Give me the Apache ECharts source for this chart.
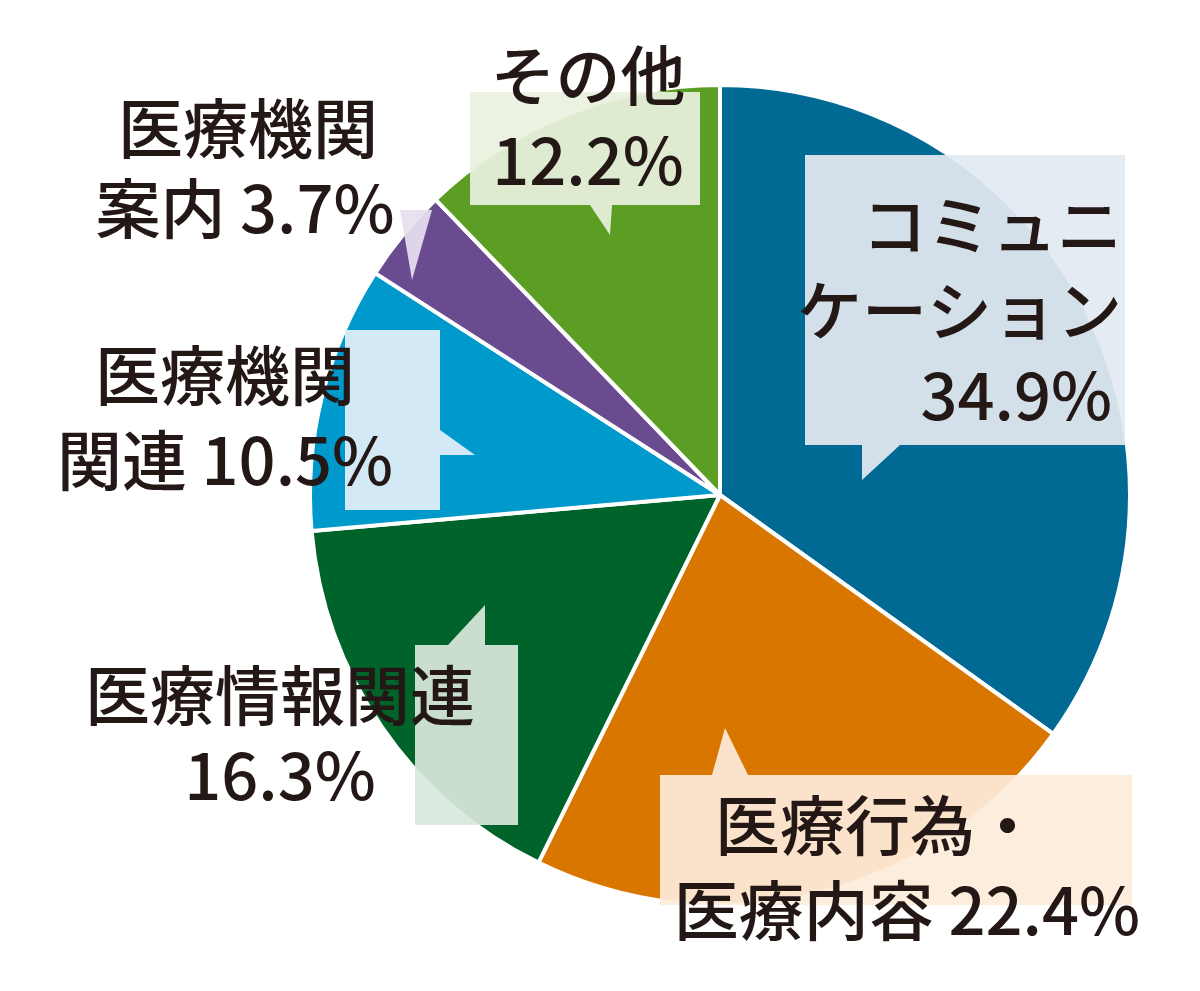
<!DOCTYPE html>
<html><head><meta charset="utf-8">
<script src="https://cdn.jsdelivr.net/npm/echarts@6/dist/echarts.min.js"></script>
<style>html,body{margin:0;background:#fff}#c{width:1200px;height:991px}</style>
</head><body><div id="c"></div>
<script>
const categories=['コミュニケーション','医療行為・医療内容','医療情報関連','医療機関関連','医療機関案内','その他'];
const values=[34.9,22.4,16.3,10.5,3.7,12.2];
const colors=['#006994','#d97600','#00632a','#0099cc','#6b4b8f','#5c9e24'];
const chart=echarts.init(document.getElementById('c'));
const F='"Noto Sans CJK JP","Noto Sans",sans-serif';
const pct=i=>values[i].toFixed(1)+'%';
function box(pts,fill){return {type:'polygon',z:100,shape:{points:pts},style:{fill:fill,opacity:0.93}};}
function txt(x,y,t,align){return {type:'text',z:101,x:x,y:y,style:{text:t,font:'500 65px '+F,fill:'#231815',align:align,verticalAlign:'middle'}};}
chart.setOption({
 animation:false,
 series:[{type:'pie',center:[720,495],radius:[0,410],startAngle:90,clockwise:true,
  label:{show:false},labelLine:{show:false},
  itemStyle:{borderColor:'#fff',borderWidth:4},
  data:categories.map((n,i)=>({name:n,value:values[i],itemStyle:{color:colors[i]}}))}],
 graphic:[
  box([[805,155],[1125,155],[1125,445],[900,445],[862,480],[862,445],[805,445]],'#e3e9f1'),
  box([[660,775],[712,775],[725,728],[748,775],[1132,775],[1132,905],[660,905]],'#fcecd9'),
  box([[415,645],[448,645],[485,605],[485,645],[518,645],[518,825],[415,825]],'#d8e7dc'),
  box([[345,330],[440,330],[440,430],[475,455],[440,455],[440,510],[345,510]],'#e3f0f9'),
  box([[400,210],[432,210],[412,280]],'#e6e0ef'),
  box([[470,92],[700,92],[700,205],[612,205],[610,235],[590,205],[470,205]],'#e9f1df'),
  txt(1122,225,'コミュニ','right'),
  txt(1122,310,'ケーション','right'),
  txt(1112,395,pct(0),'right'),
  txt(1040,825,'医療行為・','right'),
  txt(1140,910,'医療内容 '+pct(1),'right'),
  txt(280,695,'医療情報関連','center'),
  txt(280,775,pct(2),'center'),
  txt(225,375,'医療機関','center'),
  txt(225,460,'関連 '+pct(3),'center'),
  txt(248,128,'医療機関','center'),
  txt(245,208,'案内 '+pct(4),'center'),
  txt(588,75,'その他','center'),
  txt(588,160,pct(5),'center')
 ]
});
</script></body></html>
